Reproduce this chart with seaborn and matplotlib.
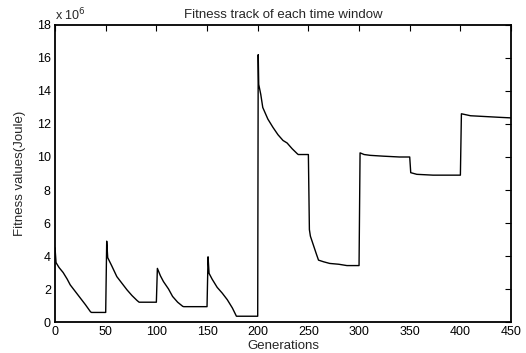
import matplotlib
matplotlib.use("Agg")
import matplotlib.pyplot as plt
import seaborn as sns
import pandas as pd

# fitness track, values in units of 1e6 Joule
generations = [
    0, 1, 4, 8, 12, 15, 20, 25, 30, 35, 36, 50,
    50, 51, 52, 56, 61, 66, 71, 76, 81, 83, 100,
    100, 101, 104, 107, 112, 116, 121, 126, 127, 150,
    150, 151, 152, 155, 160, 165, 170, 175, 179, 200,
    200, 200.5, 201, 203, 205, 210, 215, 220, 225, 229, 234, 239, 240, 250,
    250, 251, 252, 255, 258, 260, 265, 271, 280, 288, 300,
    300, 301, 305, 311, 324, 340, 350,
    350, 351, 357, 373, 390, 400,
    400, 401, 410, 425, 440, 450,
]
fitness = [
    4.5, 3.6, 3.3, 3.0, 2.6, 2.25, 1.85, 1.45, 1.05, 0.62, 0.58, 0.58,
    0.58, 4.9, 3.9, 3.4, 2.75, 2.35, 1.95, 1.6, 1.3, 1.2, 1.2,
    1.2, 3.25, 2.8, 2.45, 2.0, 1.55, 1.2, 0.95, 0.93, 0.93,
    0.93, 3.95, 2.95, 2.6, 2.1, 1.75, 1.35, 0.85, 0.35, 0.35,
    0.35, 16.2, 14.4, 13.8, 13.0, 12.3, 11.8, 11.35, 11.0, 10.85, 10.5, 10.2, 10.15, 10.15,
    10.15, 5.6, 5.2, 4.65, 4.1, 3.75, 3.65, 3.55, 3.5, 3.42, 3.42,
    3.42, 10.25, 10.15, 10.1, 10.05, 10.0, 10.0,
    10.0, 9.05, 8.95, 8.9, 8.9, 8.9,
    8.9, 12.62, 12.5, 12.45, 12.4, 12.37,
]

df = pd.DataFrame({"Generations": generations, "Fitness": fitness})

sns.set_style("white")
plt.rcParams["font.family"] = ["Liberation Sans", "DejaVu Sans"]

fig = plt.figure(figsize=(5.26, 3.53), dpi=100)
ax = fig.add_axes([0.1046, 0.0878, 0.867, 0.8414])
sns.lineplot(data=df, x="Generations", y="Fitness", estimator=None, sort=False,
             color="black", linewidth=1.0, ax=ax)

ax.set_xlim(0, 450)
ax.set_ylim(0, 18)
ax.set_xticks(range(0, 451, 50))
ax.set_yticks(range(0, 19, 2))
ax.tick_params(direction="in", length=4, width=0.8, labelsize=9, colors="black",
               top=True, right=True, pad=3)
for s in ax.spines.values():
    s.set_visible(True)
    s.set_color("black")
    s.set_linewidth(1.3)

ax.set_title("Fitness track of each time window", fontsize=9.5, pad=5)
ax.set_xlabel("Generations", fontsize=9.5, labelpad=1)
ax.set_ylabel("Fitness values(Joule)", fontsize=9.5, labelpad=8)
ax.text(0.0, 1.005, "x 10$^{6}$", transform=ax.transAxes, fontsize=9,
        ha="left", va="bottom")

fig.savefig("out.png", dpi=100)
